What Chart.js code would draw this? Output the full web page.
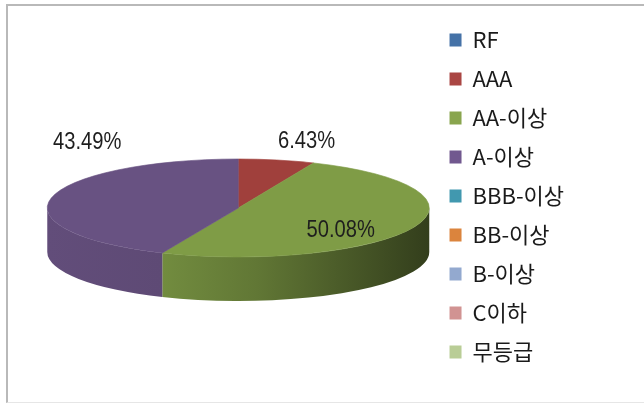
<!DOCTYPE html>
<html><head><meta charset="utf-8">
<script src="https://cdn.jsdelivr.net/npm/chart.js@4/dist/chart.umd.min.js"></script>
<style>
html,body{margin:0;padding:0;background:#fff;overflow:hidden;}
#wrap{position:relative;width:644px;height:404px;overflow:hidden;}
#frame{position:absolute;left:6px;top:4px;width:700px;height:396px;border-top:2px solid #b9b9b9;border-left:2px solid #b9b9b9;border-bottom:1px solid #e6e6e6;}
canvas{position:absolute;left:0;top:0;}
</style></head><body>
<div id="wrap"><div id="frame"></div><canvas id="c" width="644" height="404"></canvas></div>
<script>
// ---- data ----
const categories = ['RF','AAA','AA-이상','A-이상','BBB-이상','BB-이상','B-이상','C이하','무등급'];
const shares = [0, 6.43, 50.08, 43.49, 0, 0, 0, 0, 0];
const faceColors = ['#3f6899','#a0403c','#7f9c46','#685282','#3b8ca1','#c97a38','#8a9dc2','#c48988','#adc08c'];
const legendColors = ['#4572a7','#aa4643','#89a54e','#71588f','#4198af','#db843d','#93a9cf','#d19392','#b9cd96'];

function hexToRgb(h){h=h.replace('#','');return [parseInt(h.substr(0,2),16),parseInt(h.substr(2,2),16),parseInt(h.substr(4,2),16)];}
function shade(rgb,f){return 'rgb('+rgb.map(v=>Math.max(0,Math.min(255,Math.round(v*f)))).join(',')+')';}

const pie3d = {
  id:'pie3d',
  beforeDatasetsDraw(chart, args, opts){
    const meta = chart.getDatasetMeta(0);
    const arcs = meta.data;
    chart.$pieSaved = false;
    if(!arcs.length) return;
    const p0 = arcs[0].getProps(['x','y','outerRadius'], true);
    const cx = p0.x, cy = p0.y, R = p0.outerRadius;
    const k = opts.tilt, D = opts.depth;
    const ctx = chart.ctx;
    ctx.save();
    arcs.forEach((arc,i)=>{
      const p = arc.getProps(['startAngle','endAngle'], true);
      const a = Math.max(p.startAngle, 0), b = Math.min(p.endAngle, Math.PI);
      if (b <= a) return;
      const rgb = hexToRgb(faceColors[i]);
      const g = ctx.createLinearGradient(cx-R,0,cx+R,0);
      opts.sideShade.forEach(s=>g.addColorStop(s[0], shade(rgb,s[1])));
      ctx.beginPath();
      ctx.ellipse(cx, cy, R, R*k, 0, a, b, false);
      ctx.ellipse(cx, cy+D, R, R*k, 0, b, a, true);
      ctx.closePath();
      ctx.fillStyle = g; ctx.fill();
    });
    ctx.restore();
    ctx.save();
    chart.$pieSaved = true;
    ctx.translate(0, cy); ctx.scale(1, k); ctx.translate(0, -cy);
  },
  afterDatasetsDraw(chart, args, opts){
    const ctx = chart.ctx;
    if (chart.$pieSaved) { ctx.restore(); chart.$pieSaved = false; }
    const arcs = chart.getDatasetMeta(0).data;
    const k = opts.tilt;
    arcs.forEach((arc,i)=>{
      const v = shares[i]; if(!v) return;
      const p = arc.getProps(['startAngle','endAngle','x','y','outerRadius'], true);
      const m = (p.startAngle+p.endAngle)/2;
      const px = p.x + p.outerRadius*Math.cos(m), py = p.y + p.outerRadius*k*Math.sin(m);
      const off = opts.labelOffsets[i] || [0,0];
      ctx.save();
      ctx.translate(px+off[0], py+off[1]);
      ctx.scale(opts.labelScaleX,1);
      ctx.font = '24px "Liberation Sans", Arial, sans-serif';
      ctx.fillStyle = '#1e1e1e'; ctx.textAlign='center'; ctx.textBaseline='middle';
      ctx.fillText(v.toFixed(2)+'%', 0, 0);
      ctx.restore();
    });
  }
};

new Chart(document.getElementById('c'), {
  type:'pie',
  data:{
    labels: categories,
    datasets:[{
      data: shares,
      backgroundColor: faceColors,
      borderColor: faceColors,
      borderWidth: 1,
      radius: 191
    }]
  },
  options:{
    responsive:false,
    maintainAspectRatio:false,
    animation:false,
    devicePixelRatio:1,
    layout:{padding:{left:44, right:70, top:12, bottom:0}},
    plugins:{
      tooltip:{enabled:false},
      legend:{
        position:'right', align:'start',
        labels:{
          boxWidth:12, boxHeight:13, padding:17, color:'#1a1a1a',
          font:{family:'"Noto Sans CJK KR", "Noto Sans", sans-serif', size:22},
          generateLabels(chart){
            const items = Chart.overrides.pie.plugins.legend.labels.generateLabels(chart);
            items.forEach((it,i)=>{it.fillStyle=legendColors[i]; it.strokeStyle=legendColors[i]; it.lineWidth=0;});
            return items;
          }
        }
      },
      pie3d:{
        tilt: 49/191,
        depth: 44,
        sideShade: [[0,0.94],[0.3,0.9],[0.55,0.76],[1,0.4]],
        labelOffsets: {1:[30,-19], 2:[-73,3], 3:[36,-56]},
        labelScaleX: 0.84
      }
    }
  },
  plugins:[pie3d]
});
</script>
</body></html>
